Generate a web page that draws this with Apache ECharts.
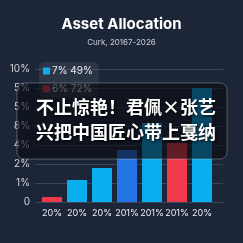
<!DOCTYPE html>
<html><head><meta charset="utf-8">
<script src="https://cdn.jsdelivr.net/npm/echarts@6/dist/echarts.min.js"></script>
<style>html,body{margin:0;padding:0;background:#1c2638;}#c{width:243px;height:243px;}</style>
</head><body><div id="c"></div>
<script>
const categories = ["20%","20%","20%","201%","201%","201%","20%"];
const yTickLabels = ["0","1%","2%","4%","8%","5%","5%","10%"];
const blueSeries = [null, 1.16, 1.79, 2.74, 4.16, null, 6.0];
const redSeries = [0.26, null, null, null, null, 3.1, null];
const legendNames = ["7% 49%", "6% 72%"];
const titleText = "Asset Allocation";
const subtitleText = "Curk, 20167-2026";
const captionLines = ["不止惊艳！君佩×张艺", "兴把中国匠心带上戛纳"];

const BLUE = "#0aaeee", DARKBLUE = "#2574e6", RED = "#f23a4c";
const chart = echarts.init(document.getElementById('c'));
const blueData = blueSeries.map((v,i)=> v==null?null:(i===3?{value:v,itemStyle:{color:DARKBLUE}}:v));
chart.setOption({
  backgroundColor: "#1c2638",
  animation: false,
  title: {text: titleText, subtext: subtitleText, left: 'center', top: 12,
    textStyle:{color:'#ffffff', fontSize:15, fontWeight:'bold', fontFamily:'Inter'},
    subtextStyle:{color:'#c9ced8', fontSize:8, fontFamily:'Inter'}, itemGap:7},
  legend: {data: legendNames, orient:'vertical', left: 39, top: 62, backgroundColor:'rgba(255,255,255,0.07)',
    borderRadius:5, padding:[4,6,4,4], itemWidth:7, itemHeight:7, itemGap:8, icon:'rect',
    textStyle:{color:'#e6e9ef', fontSize:10, fontFamily:'Inter', padding:[0,0,0,-3]}},
  grid: [
    {left:35, right:20, top:69, bottom:41},
    {left:39.5, width:175, top:69, bottom:41}
  ],
  xAxis: [
    {type:'category', gridIndex:0, data:categories, show:false},
    {type:'category', gridIndex:1, data:categories, axisLine:{show:false}, axisTick:{show:false},
     axisLabel:{color:'#eef0f4', fontSize:9, fontFamily:'Inter', margin:7, interval:0}}
  ],
  yAxis: [
    {type:'value', gridIndex:0, min:0, max:7, interval:1,
     axisLabel:{color:'#cfd3db', fontSize:10, fontFamily:'Inter', margin:5, formatter:(v)=>yTickLabels[Math.round(v)]},
     splitLine:{lineStyle:{color:'#3a4558', width:1}}, axisLine:{show:false}, axisTick:{show:false}},
    {type:'value', gridIndex:1, min:0, max:7, interval:1, show:false, splitLine:{show:false}}
  ],
  series: [
    {name:legendNames[0], type:'bar', xAxisIndex:1, yAxisIndex:1, stack:'s', data:blueData, barWidth:20, itemStyle:{color:BLUE}},
    {name:legendNames[1], type:'bar', xAxisIndex:1, yAxisIndex:1, stack:'s', data:redSeries, barWidth:20, itemStyle:{color:RED}}
  ],
  graphic: [
    {type:'rect', z:100, shape:{x:17, y:83, width:210, height:76, r:7},
     style:{fill:'rgba(8,10,14,0.62)', stroke:'rgba(200,205,215,0.35)', lineWidth:1}},
    {type:'text', z:101, left:36, top:98, style:{text:captionLines[0], fill:'#ffffff', font:'bold 18px "Noto Sans CJK SC"', textShadowColor:'rgba(0,0,0,0.9)', textShadowBlur:3, textShadowOffsetX:1, textShadowOffsetY:1}},
    {type:'text', z:101, left:36, top:123, style:{text:captionLines[1], fill:'#ffffff', font:'bold 18px "Noto Sans CJK SC"', textShadowColor:'rgba(0,0,0,0.9)', textShadowBlur:3, textShadowOffsetX:1, textShadowOffsetY:1}}
  ]
});
</script></body></html>
